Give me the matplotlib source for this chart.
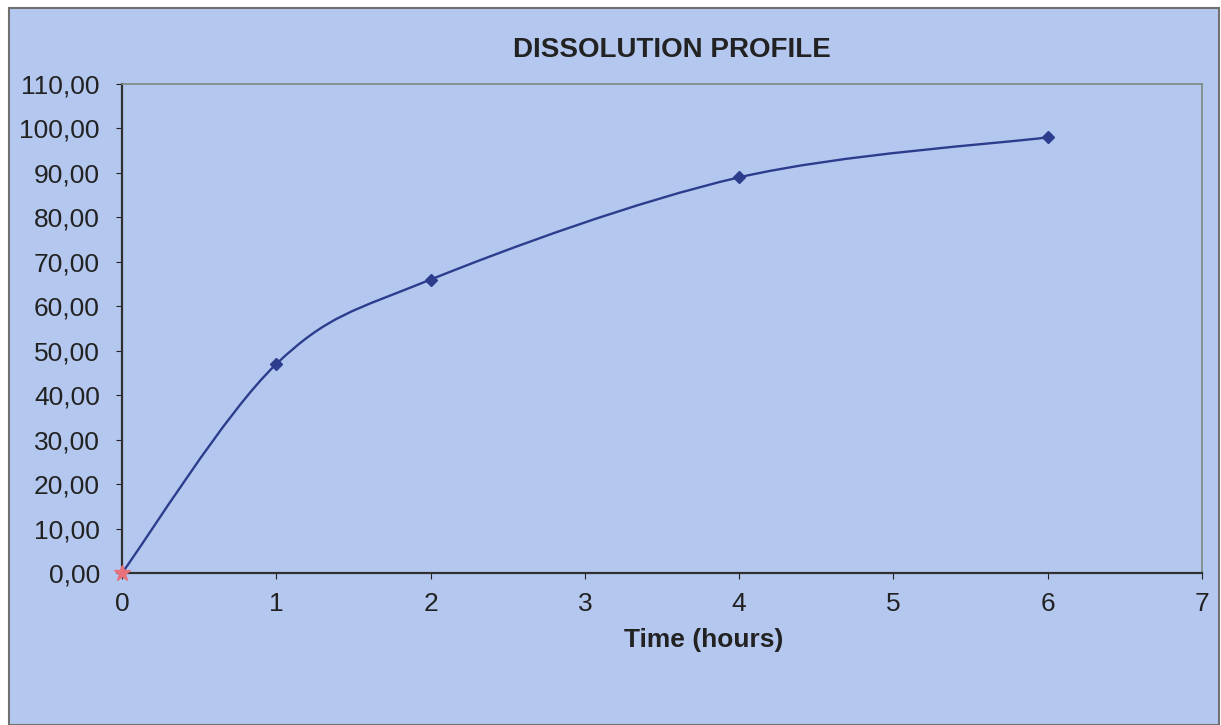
import numpy as np
import matplotlib
matplotlib.use("Agg")
import matplotlib.pyplot as plt
from matplotlib.path import Path
from matplotlib.patches import PathPatch, Rectangle

plt.rcParams["font.family"] = ["Liberation Sans", "DejaVu Sans"]

# Data
time_h = [0, 1, 2, 4, 6]
dissolved = [0.0, 47.0, 66.0, 89.0, 98.0]
start_x = [0]
start_y = [0.0]

BG = "#B4C8EF"
LINE = "#2E3C8E"

fig = plt.figure(figsize=(12.21, 7.25), dpi=100, facecolor="white")
fig.patches.append(Rectangle((9 / 1221, 0), 1210 / 1221, 717 / 725,
                             transform=fig.transFigure, facecolor=BG,
                             edgecolor="#707070", linewidth=1.5, zorder=-1))

ax = fig.add_axes([122 / 1221, 1 - 573 / 725, 1080 / 1221, 489 / 725])
ax.set_facecolor(BG)


# Excel-style smoothed line: Catmull-Rom segments as cubic Beziers
def smooth_path(xs, ys, t=1 / 6):
    pts = np.column_stack([xs, ys]).astype(float)
    verts = [pts[0]]
    codes = [Path.MOVETO]
    n = len(pts)
    for i in range(n - 1):
        p0 = pts[i - 1] if i > 0 else pts[i]
        p1, p2 = pts[i], pts[i + 1]
        p3 = pts[i + 2] if i + 2 < n else pts[i + 1]
        c1 = p1 + (p2 - p0) * t
        c2 = p2 - (p3 - p1) * t
        verts += [c1, c2, p2]
        codes += [Path.CURVE4] * 3
    return Path(verts, codes)


ax.add_patch(PathPatch(smooth_path(time_h, dissolved), facecolor="none",
                       edgecolor=LINE, linewidth=1.7, zorder=3))
ax.plot(time_h[1:], dissolved[1:], linestyle="none", marker="D", markersize=6,
        color=LINE, zorder=4)
ax.plot(start_x, start_y, linestyle="none", marker="*", markersize=12,
        color="#E8707A", zorder=5, clip_on=False)

ax.set_xlim(0, 7)
ax.set_ylim(0, 110)
ax.set_xticks(range(0, 8))
ax.set_yticks(range(0, 111, 10))
ax.set_yticklabels([f"{v},00" for v in range(0, 111, 10)])

for s in ["top", "right"]:
    ax.spines[s].set_color("#7A8A80")
    ax.spines[s].set_linewidth(1.2)
for s in ["left", "bottom"]:
    ax.spines[s].set_color("#303030")
    ax.spines[s].set_linewidth(1.6)

ax.tick_params(axis="both", labelsize=19, colors="#222222", length=4,
               direction="out")
ax.tick_params(axis="y", pad=12)
ax.tick_params(axis="x", pad=10)

ax.set_xlabel("Time (hours)", fontsize=19, fontweight="bold", color="#222222")
ax.xaxis.set_label_coords(0.539, -0.137)
ax.xaxis.label.set_va("center")
fig.text(672 / 1221, 1 - 50 / 725, "DISSOLUTION PROFILE", ha="center",
         va="center", fontsize=20, fontweight="bold", color="#222222")

fig.savefig("out.png", dpi=100, facecolor=fig.get_facecolor())
